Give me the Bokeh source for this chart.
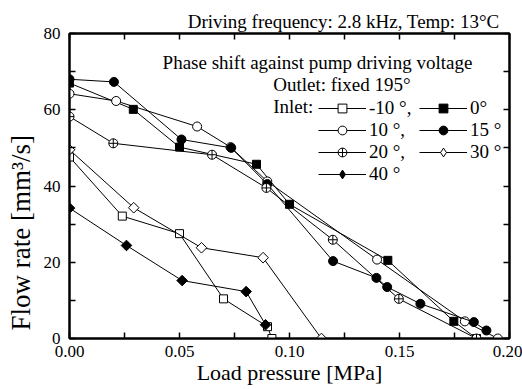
import numpy as np
from bokeh.plotting import figure
from bokeh.models import (LinearAxis, FixedTicker, Range1d, Label, Legend,
                          LegendItem, PrintfTickFormatter, Title,
                          CustomLabelingPolicy, ColumnDataSource)
from bokeh.embed import file_html
from bokeh.resources import INLINE

# ---------------- data ----------------
x_major = [0.0, 0.05, 0.10, 0.15, 0.20]
x_minor = [0.025, 0.075, 0.125, 0.175]
y_major = [0, 20, 40, 60, 80]
y_minor = [10, 30, 50, 70]

series_labels = ["-10 °,", "0°", "10 °,", "15 °", "20 °,", "30 °", "40 °"]

pressure_m10 = [0.0, 0.024, 0.050, 0.070, 0.090, 0.092]
flow_m10 = [47.6, 32.1, 27.5, 10.4, 3.1, 0.0]

pressure_0 = [0.0, 0.029, 0.050, 0.085, 0.100, 0.1447, 0.1747, 0.185]
flow_0 = [67.0, 60.1, 50.2, 45.7, 35.2, 20.5, 4.5, 0.0]

pressure_10 = [0.0, 0.0212, 0.058, 0.0732, 0.0899, 0.1398, 0.1797, 0.1947]
flow_10 = [64.2, 62.3, 55.6, 50.2, 41.2, 20.7, 4.5, 0.0]

pressure_15 = [0.0, 0.0202, 0.0509, 0.0735, 0.0899, 0.1198, 0.1395, 0.1444,
               0.1595, 0.1838, 0.1895]
flow_15 = [68.0, 67.3, 52.2, 50.0, 40.5, 20.3, 15.9, 13.5, 9.1, 4.3, 2.1]

pressure_20 = [0.0, 0.0199, 0.0648, 0.0895, 0.1197, 0.1497, 0.185]
flow_20 = [58.2, 51.2, 48.2, 39.5, 25.9, 10.4, 0.0]

pressure_30 = [0.0, 0.0292, 0.060, 0.088, 0.1145]
flow_30 = [49.5, 34.3, 23.8, 21.2, 0.0]

pressure_40 = [0.0, 0.0259, 0.0512, 0.0803, 0.0891]
flow_40 = [34.2, 24.4, 15.2, 12.3, 3.6]

FONT = "Liberation Serif"

p = figure(width=522, height=389, output_backend="svg", toolbar_location=None,
           x_range=Range1d(0, 0.2), y_range=Range1d(0, 80),
           min_border_left=69, min_border_right=13, min_border_top=33,
           min_border_bottom=51)
p.xgrid.visible = False
p.ygrid.visible = False
p.outline_line_color = "black"
p.outline_line_width = 2
p.background_fill_color = "white"
p.border_fill_color = "white"
# range used only so that the diamond legend keys draw no points in the plot
p.extra_y_ranges = {"keys": Range1d(1000, 1001)}

bottom_ax = p.below[0]
left_ax = p.left[0]
top_ax = LinearAxis(major_label_policy=CustomLabelingPolicy(code="return [];"),
                    major_label_standoff=0)
right_ax = LinearAxis(major_label_policy=CustomLabelingPolicy(code="return [];"),
                      major_label_standoff=0)
p.add_layout(top_ax, "above")
p.add_layout(right_ax, "right")

for ax in (bottom_ax, top_ax):
    ax.ticker = FixedTicker(ticks=x_major, minor_ticks=x_minor)
    ax.formatter = PrintfTickFormatter(format="%.2f")
for ax in (left_ax, right_ax):
    ax.ticker = FixedTicker(ticks=y_major, minor_ticks=y_minor)

for ax in (bottom_ax, top_ax, left_ax, right_ax):
    ax.axis_line_width = 2
    ax.axis_line_color = "black"
    ax.major_tick_in = 6
    ax.major_tick_out = 0
    ax.minor_tick_in = 6
    ax.minor_tick_out = 0
    ax.major_tick_line_width = 1.5
    ax.minor_tick_line_width = 1.5
    ax.major_tick_line_color = "black"
    ax.minor_tick_line_color = "black"
    ax.major_label_text_font = FONT
    ax.major_label_text_font_size = "17px"
    ax.major_label_text_color = "black"
    ax.axis_label_text_font = FONT
    ax.axis_label_text_font_style = "normal"
    ax.axis_label_text_color = "black"

for ax in (top_ax, right_ax):
    ax.major_label_text_font_size = "1px"

bottom_ax.major_label_standoff = 7
bottom_ax.axis_label = "Load pressure [MPa]"
bottom_ax.axis_label_text_font_size = "22px"
bottom_ax.axis_label_standoff = 0
left_ax.major_label_standoff = 9

# title (top, right aligned)
p.title.text = "Driving frequency: 2.8 kHz, Temp: 13°C"
p.title.align = "right"
p.title.text_font = FONT
p.title.text_font_size = "19px"
p.title.text_font_style = "normal"
p.title.text_color = "black"
p.title.standoff = -4
p.title.offset = 10

# y axis title, starting a little above the bottom of the frame
p.add_layout(Title(text="Flow rate [mm³/s]", align="left", offset=8,
                   vertical_align="middle",
                   text_font=FONT, text_font_size="27px",
                   text_font_style="normal", text_color="black", standoff=8),
             "left")

# series
specs = [
    (pressure_m10, flow_m10, "square", "white", 8, 0.0),
    (pressure_0, flow_0, "square", "black", 8, 0.0),
    (pressure_10, flow_10, "circle", "white", 9, 0.0),
    (pressure_15, flow_15, "circle", "black", 9, 0.0),
    (pressure_20, flow_20, "circle_cross", "white", 9, 0.0),
    (pressure_30, flow_30, "square", "white", 7.5, np.pi / 4),
    (pressure_40, flow_40, "square", "black", 7.5, np.pi / 4),
]

items = []
for (xs, ys, marker, fill, size, ang), lab in zip(specs, series_labels):
    src = ColumnDataSource(data=dict(x=xs, y=ys))
    lr = p.line("x", "y", source=src, line_color="black", line_width=1)
    sr = p.scatter("x", "y", source=src, marker=marker, size=size, angle=ang,
                   fill_color=fill, line_color="black", line_width=1)
    rends = [lr, sr]
    if ang:
        # legend keys are drawn unrotated: use a diamond key glyph whose
        # points fall outside the visible range
        kr = p.scatter("x", "y", source=src, y_range_name="keys",
                       marker="diamond", size=size,
                       fill_color=fill, line_color="black", line_width=1)
        rends = [lr, kr]
    items.append(LegendItem(label=lab, renderers=rends))

legend = Legend(items=items, location=(249, 153), orientation="horizontal",
                ncols=2, glyph_width=48, glyph_height=22, label_height=22,
                label_width=50, label_standoff=3, spacing=0, padding=0,
                margin=0, border_line_alpha=0, background_fill_alpha=0,
                label_text_font=FONT, label_text_font_size="19px",
                label_text_color="black")
p.add_layout(legend, "center")

# annotations
p.add_layout(Label(x=0.0423, y=72.4, text="Phase shift against pump driving voltage",
                   text_font=FONT, text_font_size="19px", text_color="black",
                   text_baseline="alphabetic"))
p.add_layout(Label(x=0.0926, y=66.6, text="Outlet: fixed 195°",
                   text_font=FONT, text_font_size="19px", text_color="black",
                   text_baseline="alphabetic"))
p.add_layout(Label(x=0.0926, y=60.9, text="Inlet:",
                   text_font=FONT, text_font_size="19px", text_color="black",
                   text_baseline="alphabetic"))

open("out.html", "w").write(file_html(p, INLINE))
